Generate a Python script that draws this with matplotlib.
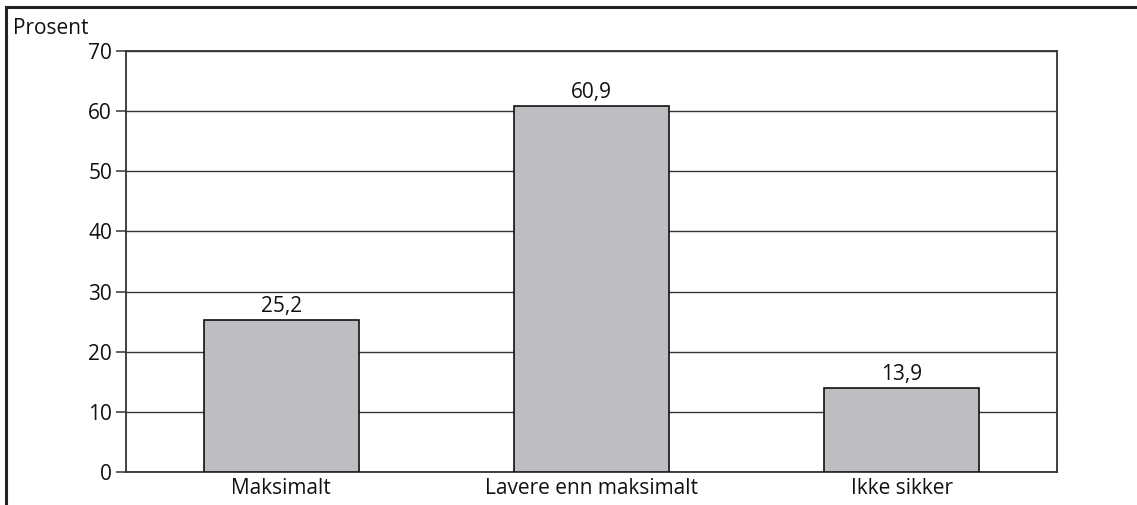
import matplotlib
matplotlib.use("Agg")
import matplotlib.pyplot as plt
from matplotlib.lines import Line2D

plt.rcParams['font.family'] = ['Open Sans', 'DejaVu Sans']

kategorier = ["Maksimalt", "Lavere enn maksimalt", "Ikke sikker"]
prosent = [25.2, 60.9, 13.9]
yticks = [0, 10, 20, 30, 40, 50, 60, 70]

W, H = 1137, 505
fig = plt.figure(figsize=(W / 100, H / 100), dpi=100)
ax = fig.add_axes([126 / W, 1 - 472 / H, (1057 - 126) / W, (472 - 51) / H])

x = range(len(kategorier))
bars = ax.bar(x, prosent, width=0.5, color="#bdbec2", edgecolor="#111111",
              linewidth=1.2, zorder=3)

for b, v in zip(bars, prosent):
    ax.text(b.get_x() + b.get_width() / 2, v + 0.5, f"{v:.1f}".replace(".", ","),
            ha="center", va="bottom", fontsize=15, color="#111111")

ax.set_xlim(-0.5, len(kategorier) - 0.5)
ax.set_ylim(0, 70)
ax.set_yticks(yticks)
ax.set_yticklabels([str(t) for t in yticks])
ax.set_xticks(list(x))
ax.set_xticklabels(kategorier)
ax.tick_params(axis="x", length=0, labelsize=15, pad=4, colors="#111111")
ax.tick_params(axis="y", length=7, width=1.2, labelsize=15, pad=3,
               colors="#111111", color="#444444")
ax.yaxis.grid(True, color="#333333", linewidth=1.0)
ax.set_axisbelow(True)
for s in ax.spines.values():
    s.set_color("#333333")
    s.set_linewidth(1.3)

fig.text(13 / W, 1 - 28 / H, "Prosent", ha="left", va="center",
         fontsize=15, color="#111111")

# frame along top and left edge
fig.add_artist(Line2D([6 / W, 6 / W], [0, 1 - 7 / H], transform=fig.transFigure,
                      color="#222222", linewidth=2.2))
fig.add_artist(Line2D([6 / W, 1], [1 - 7 / H, 1 - 7 / H], transform=fig.transFigure,
                      color="#222222", linewidth=2.2))

fig.savefig("out.png", dpi=100)
